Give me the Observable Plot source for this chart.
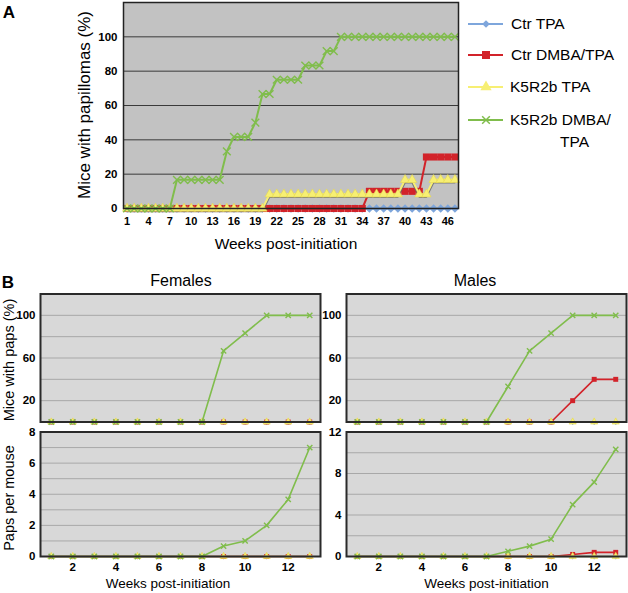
<!DOCTYPE html>
<html><head><meta charset="utf-8">
<script src="https://cdn.jsdelivr.net/npm/d3@7"></script>
<script src="https://cdn.jsdelivr.net/npm/@observablehq/plot@0.6"></script>
<style>
body{margin:0;background:#fff;font-family:"Liberation Sans",Arial,sans-serif;}
#root{position:relative;width:628px;height:593px;overflow:hidden;background:#fff;}
.pl{position:absolute;}
.lbl{position:absolute;white-space:nowrap;color:#000;line-height:1;font-family:"Liberation Sans",Arial,sans-serif;}
.pl svg g[aria-label$="tick label"] text{font-weight:bold;}
</style></head><body><div id="root"></div>
<script>
// ---------- DATA ----------
const seriesNames = ["Ctr TPA", "Ctr DMBA/TPA", "K5R2b TPA", "K5R2b DMBA/TPA"];

// Panel A: weeks 1..47, % mice with papillomas
const weeksA = [1,2,3,4,5,6,7,8,9,10,11,12,13,14,15,16,17,18,19,20,21,22,23,24,25,26,27,28,29,30,31,32,33,34,35,36,37,38,39,40,41,42,43,44,45,46,47];
const ctrTPA_A = [0,0,0,0,0,0,0,0,0,0,0,0,0,0,0,0,0,0,0,0,0,0,0,0,0,0,0,0,0,0,0,0,0,0,0,0,0,0,0,0,0,0,0,0,0,0,0];
const ctrDMBA_A = [0,0,0,0,0,0,0,0,0,0,0,0,0,0,0,0,0,0,0,0,0,0,0,0,0,0,0,0,0,0,0,0,0,0,10,10,10,10,10,10,10,10,30,30,30,30,30];
const k5TPA_A = [0,0,0,0,0,0,0,0,0,0,0,0,0,0,0,0,0,0,0,0,8.3,8.3,8.3,8.3,8.3,8.3,8.3,8.3,8.3,8.3,8.3,8.3,8.3,8.3,8.3,8.3,8.3,8.3,8.3,16.7,16.7,8.3,8.3,16.7,16.7,16.7,16.7];
const k5DMBA_A = [0,0,0,0,0,0,0,16.7,16.7,16.7,16.7,16.7,16.7,16.7,33.3,41.7,41.7,41.7,50,66.7,66.7,75,75,75,75,83.3,83.3,83.3,91.7,91.7,100,100,100,100,100,100,100,100,100,100,100,100,100,100,100,100,100];
const xTicksA = [1,4,7,10,13,16,19,22,25,28,31,34,37,40,43,46];
const yTicksA = [0,20,40,60,80,100];

// Panel B: weeks 1..13
const weeksB = [1,2,3,4,5,6,7,8,9,10,11,12,13];
// Females, mice with paps (%)
const femPct_ctrTPA  = [0,0,0,0,0,0,0,0,0,0,0,0,0];
const femPct_ctrDMBA = [0,0,0,0,0,0,0,0,0,0,0,0,0];
const femPct_k5TPA   = [0,0,0,0,0,0,0,0,0,0,0,0,0];
const femPct_k5DMBA  = [0,0,0,0,0,0,0,0,66.7,83.3,100,100,100];
// Males, mice with paps (%)
const malPct_ctrTPA  = [0,0,0,0,0,0,0,0,0,0,0,0,0];
const malPct_ctrDMBA = [0,0,0,0,0,0,0,0,0,0,20,40,40];
const malPct_k5TPA   = [0,0,0,0,0,0,0,0,0,0,0,0,0];
const malPct_k5DMBA  = [0,0,0,0,0,0,0,33.3,66.7,83.3,100,100,100];
// Females, paps per mouse
const femPpm_ctrTPA  = [0,0,0,0,0,0,0,0,0,0,0,0,0];
const femPpm_ctrDMBA = [0,0,0,0,0,0,0,0,0,0,0,0,0];
const femPpm_k5TPA   = [0,0,0,0,0,0,0,0,0,0,0,0,0];
const femPpm_k5DMBA  = [0,0,0,0,0,0,0,0,0.67,1.0,2.0,3.67,7.0];
// Males, paps per mouse
const malPpm_ctrTPA  = [0,0,0,0,0,0,0,0,0,0,0,0,0];
const malPpm_ctrDMBA = [0,0,0,0,0,0,0,0,0,0,0.2,0.4,0.4];
const malPpm_k5TPA   = [0,0,0,0,0,0,0,0,0,0,0,0,0];
const malPpm_k5DMBA  = [0,0,0,0,0,0,0,0.5,1.0,1.67,5.0,7.17,10.33];

const xTicksB = [2,4,6,8,10,12];
const pctGridB = [20,40,60,80,100];
const pctTicksB = [20,60,100];
const femPpmGrid = [1,2,3,4,5,6,7];
const femPpmTicks = [0,2,4,6,8];
const malPpmGrid = [2,4,6,8,10];
const malPpmTicks = [0,4,8,12];

// ---------- STYLE ----------
const colors = ["#7ea6dc", "#d2232a", "#f7ef73", "#80bd4c"];
const FONT = '"Liberation Sans", Arial, sans-serif';
const root = document.getElementById("root");

function tidy(weeks, values){ return weeks.map((w,i)=>({week:w, value:values[i]})); }

function seriesMarks(weeks, arrays, r, sw, shadow, triScale){
  const marks = [];
  arrays.forEach((vals, i) => {
    const d = tidy(weeks, vals);
    if (shadow && i === 2) marks.push(Plot.line(d, {x:"week", y:"value", stroke:"#6a6a6a", strokeWidth:1.4, dy:3, strokeOpacity:0.8}));
    marks.push(Plot.line(d, {x:"week", y:"value", stroke:colors[i], strokeWidth:sw}));
    if (i === 0) marks.push(Plot.dot(d, {x:"week", y:"value", symbol:"square", rotate:45, fill:colors[0], r:r*0.85}));
    if (i === 1) marks.push(Plot.dot(d, {x:"week", y:"value", symbol:"square", fill:colors[1], r:r}));
    if (i === 2) marks.push(Plot.dot(d, {x:"week", y:"value", symbol:"triangle", fill:colors[2], stroke:"#e6d84e", strokeWidth:0.6, r:r*triScale}));
    if (i === 3) marks.push(Plot.dot(d, {x:"week", y:"value", symbol:"times", stroke:colors[3], strokeWidth:1.4, r:r*0.9}));
  });
  return marks;
}

function place(svg, left, top){
  const div = document.createElement("div");
  div.className = "pl";
  div.style.left = left + "px"; div.style.top = top + "px";
  div.appendChild(svg); root.appendChild(div);
}

function label(text, cx, cy, size, opts={}){
  const el = document.createElement("div");
  el.className = "lbl";
  el.textContent = text;
  el.style.fontSize = size + "px";
  if (opts.bold) el.style.fontWeight = "bold";
  if (opts.left !== undefined){
    el.style.left = opts.left + "px"; el.style.top = cy + "px";
    el.style.transform = "translate(0,-50%)";
  } else {
    el.style.left = cx + "px"; el.style.top = cy + "px";
    el.style.transform = "translate(-50%,-50%)" + (opts.rotate ? " rotate(-90deg)" : "");
  }
  root.appendChild(el);
}

// ---------- PANEL A ----------
const plotA = Plot.plot({
  width: 470, height: 260,
  marginLeft: 123, marginRight: 12, marginTop: 2, marginBottom: 52,
  x: {domain: [0.5, 47.5], axis: null},
  y: {domain: [0, 120], axis: null},
  style: {fontFamily: FONT, background: "transparent", overflow: "visible", color: "#000"},
  marks: [
    Plot.frame({fill: "#c2c2c2"}),
    Plot.ruleY(yTicksA, {stroke: "#3a3a3a", strokeWidth: 1}),
    Plot.axisX({ticks: xTicksA, tickSize: 0, tickPadding: 9, label: null, fontSize: 11, fontWeight: "bold"}),
    Plot.axisY({ticks: yTicksA, tickSize: 0, tickPadding: 6, label: null, fontSize: 11.5, fontWeight: "bold"}),
    ...seriesMarks(weeksA, [ctrTPA_A, ctrDMBA_A, k5TPA_A, k5DMBA_A], 4, 2, true, 0.85),
    Plot.frame({stroke: "#222", strokeWidth: 1.5})
  ]
});
place(plotA, 0, 0);

label("A", 9, 11.5, 17, {bold: true});
label("Mice with papillomas (%)", 84, 105, 17, {rotate: true});
label("Weeks post-initiation", 286, 244, 15.5);

// Legend (Panel A)
const legendY = [24, 55, 87, 120];
const legendSvg = d3.create("svg").attr("width", 40).attr("height", 140)
  .style("position","absolute").style("left","466px").style("top","10px");
const symGen = [
  d3.symbol(d3.symbolSquare, 30),
  d3.symbol(d3.symbolSquare, 64),
  d3.symbol(d3.symbolTriangle, 55),
  d3.symbol(d3.symbolX, 40)
];
legendY.forEach((y, i) => {
  const yy = y - 10;
  legendSvg.append("line").attr("x1", 2).attr("x2", 37).attr("y1", yy).attr("y2", yy)
    .attr("stroke", colors[i]).attr("stroke-width", 2);
  const p = legendSvg.append("path").attr("d", symGen[i]())
    .attr("transform", `translate(20,${yy})` + (i === 0 ? " rotate(45)" : ""));
  if (i === 3) p.attr("fill", "none").attr("stroke", colors[i]).attr("stroke-width", 1.5);
  else p.attr("fill", colors[i]);
});
root.appendChild(legendSvg.node());
label("Ctr TPA", 0, 24, 15.5, {left: 511});
label("Ctr DMBA/TPA", 0, 55, 15.5, {left: 511});
label("K5R2b TPA", 0, 87, 15.5, {left: 510});
label("K5R2b DMBA/", 0, 120, 15.5, {left: 510});
label("TPA", 0, 142, 15.5, {left: 560});

// ---------- PANEL B ----------
function panelB({width, height, mLeft, mRight, mTop, mBottom, yDomain, grid, ticks, arrays, showX}){
  const marks = [
    Plot.frame({fill: "#d8d8d8"}),
    Plot.ruleY(grid, {stroke: "#a8a8a8", strokeWidth: 1}),
    Plot.axisY({ticks: ticks, tickSize: 0, tickPadding: 5, label: null, fontSize: 11.5, fontWeight: "bold"})
  ];
  if (showX) marks.push(Plot.axisX({ticks: xTicksB, tickSize: 0, tickPadding: 6, label: null, fontSize: 11.5, fontWeight: "bold"}));
  marks.push(...seriesMarks(weeksB, arrays, 2.8, 1.6, false, 0.95));
  marks.push(Plot.frame({stroke: "#2a2a2a", strokeWidth: 2}));
  return Plot.plot({
    width, height, marginLeft: mLeft, marginRight: mRight, marginTop: mTop, marginBottom: mBottom,
    x: {domain: [0.5, 13.5], axis: null},
    y: {domain: yDomain, axis: null},
    style: {fontFamily: FONT, background: "transparent", overflow: "visible", color: "#000"},
    marks
  });
}

place(panelB({width: 330, height: 135, mLeft: 40, mRight: 10, mTop: 3.5, mBottom: 3.5,
  yDomain: [0, 120], grid: pctGridB, ticks: pctTicksB,
  arrays: [femPct_ctrTPA, femPct_ctrDMBA, femPct_k5TPA, femPct_k5DMBA], showX: false}), 0, 290);
place(panelB({width: 318, height: 135, mLeft: 36, mRight: 2, mTop: 3.5, mBottom: 3.5,
  yDomain: [0, 120], grid: pctGridB, ticks: pctTicksB,
  arrays: [malPct_ctrTPA, malPct_ctrDMBA, malPct_k5TPA, malPct_k5DMBA], showX: false}), 310, 290);
place(panelB({width: 330, height: 160, mLeft: 40, mRight: 10, mTop: 6.5, mBottom: 29,
  yDomain: [0, 8], grid: femPpmGrid, ticks: femPpmTicks,
  arrays: [femPpm_ctrTPA, femPpm_ctrDMBA, femPpm_k5TPA, femPpm_k5DMBA], showX: true}), 0, 425);
place(panelB({width: 318, height: 160, mLeft: 36, mRight: 2, mTop: 6.5, mBottom: 29,
  yDomain: [0, 12], grid: malPpmGrid, ticks: malPpmTicks,
  arrays: [malPpm_ctrTPA, malPpm_ctrDMBA, malPpm_k5TPA, malPpm_k5DMBA], showX: true}), 310, 425);

label("B", 8, 281.5, 17, {bold: true});
label("Females", 181, 281, 16);
label("Males", 475, 281, 16);
label("Mice with paps (%)", 8.5, 360, 14.5, {rotate: true});
label("Paps per mouse", 8.5, 498, 14.5, {rotate: true});
label("Weeks post-initiation", 168, 584, 13.5);
label("Weeks post-initiation", 486.5, 584, 13.5);
</script>
</body></html>
